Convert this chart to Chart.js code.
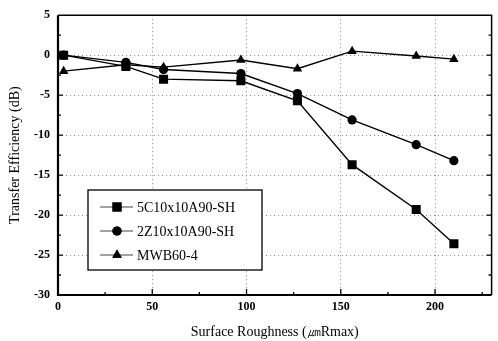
<!DOCTYPE html>
<html lang="en">
<head>
    <meta charset="UTF-8">
    <title>Transfer Efficiency vs Surface Roughness</title>
    <script src="https://cdn.jsdelivr.net/npm/chart.js"></script>
    <style>
        html, body { margin: 0; padding: 0; background: #fff; }
        #wrap { width: 498px; height: 341px; }
    </style>
</head>
<body>
    <div id="wrap"><canvas id="roughChart" width="498" height="341"></canvas></div>

    <script>
        // Surface roughness (um Rmax) values of the measured samples
        var roughness = [3, 36, 56, 97, 127, 156, 190, 210];

        // Transfer efficiency (dB) per transducer
        var eff5C = [0, -1.4, -3.0, -3.2, -5.7, -13.7, -19.3, -23.6];
        var eff2Z = [0, -0.9, -1.8, -2.3, -4.8, -8.1, -11.2, -13.2];
        var effMWB = [-2.0, -1.2, -1.5, -0.6, -1.7, 0.5, -0.1, -0.5];

        var seriesNames = ['5C10x10A90-SH', '2Z10x10A90-SH', 'MWB60-4'];

        // Tick labels
        var xTicks = [0, 50, 100, 150, 200];
        var yTicks = [5, 0, -5, -10, -15, -20, -25, -30];

        var serif = "'Liberation Serif', 'Times New Roman', serif";

        function toPoints(vals) {
            return roughness.map(function (x, i) { return { x: x, y: vals[i] }; });
        }

        function makeSet(label, vals, style, radius) {
            return {
                label: label,
                data: toPoints(vals),
                borderColor: '#000',
                backgroundColor: '#000',
                borderWidth: 1.4,
                pointStyle: style,
                pointRadius: radius,
                pointBorderWidth: 0,
                pointBackgroundColor: '#000',
                tension: 0,
                fill: false
            };
        }

        // frame, solid axes, inward tick marks and the boxed legend
        var framePlugin = {
            id: 'framePlugin',
            afterDraw: function (chart) {
                var ctx = chart.ctx;
                var a = chart.chartArea;
                var xs = chart.scales.x, ys = chart.scales.y;
                ctx.save();
                ctx.setLineDash([]);
                ctx.strokeStyle = '#000';
                ctx.lineWidth = 1.5;
                ctx.beginPath();
                ctx.moveTo(a.left, a.top); ctx.lineTo(a.right, a.top); ctx.lineTo(a.right, a.bottom);
                ctx.stroke();
                ctx.lineWidth = 2.2;
                ctx.beginPath();
                ctx.moveTo(a.left, a.top); ctx.lineTo(a.left, a.bottom); ctx.lineTo(a.right, a.bottom);
                ctx.stroke();

                ctx.lineWidth = 1.3;
                ctx.beginPath();
                for (var v = 25; v <= 225; v += 25) {
                    var px = xs.getPixelForValue(v);
                    var len = v % 50 === 0 ? 6 : 3;
                    ctx.moveTo(px, a.bottom); ctx.lineTo(px, a.bottom - len);
                }
                for (var w = -27.5; w < 5; w += 2.5) {
                    var py = ys.getPixelForValue(w);
                    var l2 = w % 5 === 0 ? 5 : 3;
                    ctx.moveTo(a.left, py); ctx.lineTo(a.left + l2, py);
                    ctx.moveTo(a.right, py); ctx.lineTo(a.right - l2, py);
                }
                ctx.stroke();

                // legend box
                var bx = 88, by = 190, bw = 174, bh = 80;
                ctx.fillStyle = '#fff';
                ctx.fillRect(bx, by, bw, bh);
                ctx.lineWidth = 1.3;
                ctx.strokeRect(bx, by, bw, bh);
                ctx.font = '14px ' + serif;
                ctx.textBaseline = 'middle';
                ctx.textAlign = 'left';
                chart.data.datasets.forEach(function (ds, i) {
                    var ry = 207 + i * 24;
                    ctx.strokeStyle = '#444';
                    ctx.lineWidth = 1;
                    ctx.beginPath();
                    ctx.moveTo(100, ry); ctx.lineTo(133, ry);
                    ctx.stroke();
                    ctx.fillStyle = '#000';
                    Chart.helpers.drawPoint(ctx, { pointStyle: ds.pointStyle, radius: ds.pointRadius, borderWidth: 0 }, 117, ry);
                    ctx.fill();
                    ctx.fillStyle = '#000';
                    ctx.fillText(ds.label, 137, ry + 1);
                });
                ctx.restore();
            }
        };

        var gridDots = '#8a8a8a';

        var roughConfig = {
            type: 'line',
            data: {
                datasets: [
                    makeSet(seriesNames[0], eff5C, 'rect', 6.4),
                    makeSet(seriesNames[1], eff2Z, 'circle', 4.6),
                    makeSet(seriesNames[2], effMWB, 'triangle', 5.5)
                ]
            },
            options: {
                responsive: false,
                animation: false,
                layout: { padding: { top: 12, right: 5, left: 0, bottom: 0 } },
                plugins: {
                    legend: { display: false },
                    tooltip: { enabled: false }
                },
                scales: {
                    x: {
                        type: 'linear',
                        min: 0,
                        max: 230,
                        afterBuildTicks: function (scale) {
                            scale.ticks = xTicks.map(function (v) { return { value: v }; });
                        },
                        afterFit: function (scale) { scale.height = 46; },
                        border: { display: false, dash: [1, 3] },
                        grid: {
                            drawTicks: false,
                            lineWidth: 1,
                            color: function (c) {
                                return c.tick && c.tick.value === 0 ? 'rgba(0,0,0,0)' : gridDots;
                            }
                        },
                        ticks: {
                            padding: 5,
                            color: '#000',
                            font: { family: serif, size: 12, weight: 'bold' },
                            callback: function (v) { return String(v); }
                        },
                        title: {
                            display: true,
                            text: 'Surface Roughness (㎛Rmax)',
                            color: '#000',
                            font: { family: serif, size: 14 },
                            padding: { top: 8, bottom: 0 }
                        }
                    },
                    y: {
                        type: 'linear',
                        min: -30,
                        max: 5,
                        afterBuildTicks: function (scale) {
                            scale.ticks = yTicks.map(function (v) { return { value: v }; });
                        },
                        afterFit: function (scale) { scale.width = 58; },
                        border: { display: false, dash: [1, 3] },
                        grid: {
                            drawTicks: false,
                            lineWidth: 1,
                            color: function (c) {
                                var v = c.tick && c.tick.value;
                                return (v === 5 || v === -30) ? 'rgba(0,0,0,0)' : gridDots;
                            }
                        },
                        ticks: {
                            padding: 8,
                            color: '#000',
                            font: { family: serif, size: 12, weight: 'bold' },
                            callback: function (v) { return String(v); }
                        },
                        title: {
                            display: true,
                            text: 'Transfer Efficiency (dB)',
                            color: '#000',
                            font: { family: serif, size: 14 },
                            padding: { top: 7, bottom: 0 }
                        }
                    }
                }
            },
            plugins: [framePlugin]
        };

        var roughChart = new Chart(document.getElementById('roughChart'), roughConfig);
    </script>
</body>
</html>
